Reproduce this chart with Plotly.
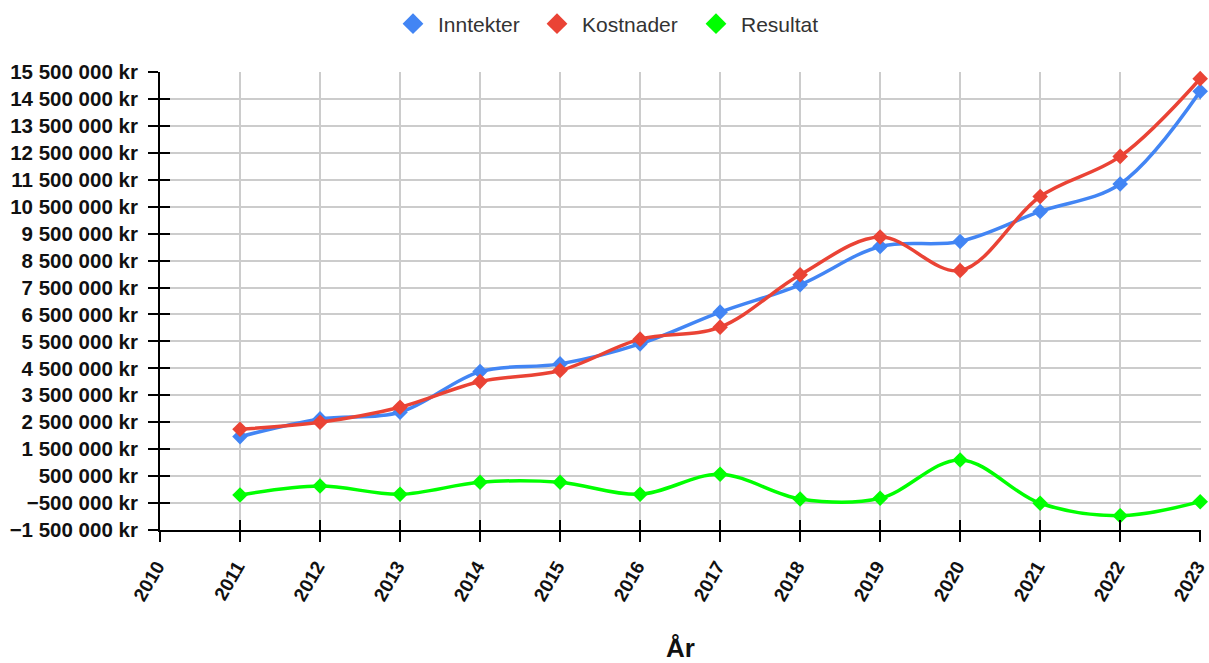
import plotly.graph_objects as go

years = [2011, 2012, 2013, 2014, 2015, 2016, 2017, 2018, 2019, 2020, 2021, 2022, 2023]
inntekter = [1966000, 2623000, 2872000, 4380000, 4666000, 5409000, 6587000,
             7601000, 9024000, 9210000, 10324000, 11342000, 14782000]
kostnader = [2241000, 2501000, 3058000, 4009000, 4418000, 5584000, 6030000,
             7973000, 9373000, 8132000, 10881000, 12367000, 15253000]
resultat = [-200000, 134000, -174000, 272000, 272000, -174000, 569000,
            -348000, -322000, 1100000, -508000, -969000, -449000]

x_ticks = [2010, 2011, 2012, 2013, 2014, 2015, 2016, 2017, 2018, 2019, 2020, 2021, 2022, 2023]
y_ticks = [-1500000, -500000, 500000, 1500000, 2500000, 3500000, 4500000, 5500000,
           6500000, 7500000, 8500000, 9500000, 10500000, 11500000, 12500000,
           13500000, 14500000, 15500000]
y_tick_labels = ["\u22121 500 000 kr", "\u2212500 000 kr", "500 000 kr", "1 500 000 kr",
                 "2 500 000 kr", "3 500 000 kr", "4 500 000 kr", "5 500 000 kr",
                 "6 500 000 kr", "7 500 000 kr", "8 500 000 kr", "9 500 000 kr",
                 "10 500 000 kr", "11 500 000 kr", "12 500 000 kr", "13 500 000 kr",
                 "14 500 000 kr", "15 500 000 kr"]

series = [("Inntekter", inntekter, "#4285F4"),
          ("Kostnader", kostnader, "#EA4335"),
          ("Resultat", resultat, "#00FF00")]

FONT = "Arial, 'Liberation Sans', sans-serif"
W, H = 1209, 663

fig = go.Figure()
for name, vals, col in series:
    fig.add_trace(go.Scatter(
        x=years, y=vals, name=name, mode="lines+markers", showlegend=False,
        line=dict(color=col, width=3.5, shape="spline", smoothing=1),
        marker=dict(symbol="diamond", size=12, color=col),
        cliponaxis=False,
    ))

# legend entries (diamond only), each in its own legend box for exact spacing
legend_ids = ["legend", "legend2", "legend3"]
legend_left_px = [388, 532, 691]
for (name, vals, col), lid in zip(series, legend_ids):
    fig.add_trace(go.Scatter(
        x=[None], y=[None], name=name, mode="markers", legend=lid,
        marker=dict(symbol="diamond", size=16, color=col),
    ))

# invisible trace to activate overlay axes (inside tick halves)
fig.add_trace(go.Scatter(x=[years[0]], y=[resultat[0]], xaxis="x2", yaxis="y2",
                         mode="markers", marker=dict(opacity=0), showlegend=False,
                         hoverinfo="skip"))

yr = [y_ticks[0], y_ticks[-1]]
xr = [x_ticks[0], x_ticks[-1] + 0.01]

legend_common = dict(orientation="h", xref="container", yref="container",
                     xanchor="left", y=(H - 24) / H, yanchor="middle",
                     font=dict(size=21, color="#333333"), itemwidth=40,
                     bgcolor="rgba(0,0,0,0)")
legends = {}
for lid, lx in zip(legend_ids, legend_left_px):
    legends[lid] = dict(legend_common, x=lx / W)

fig.update_layout(
    width=W, height=H,
    margin=dict(l=160, r=8, t=72, b=133, autoexpand=False),
    paper_bgcolor="white", plot_bgcolor="white",
    font=dict(family=FONT, color="#222222"),
    **legends,
    xaxis=dict(
        range=xr, tickmode="array", tickvals=x_ticks, automargin=False,
        tickangle=-60, tickfont=dict(size=19, color="#111111", family=FONT, weight="bold"),
        ticklabeloverflow="allow", ticklabelstandoff=6, ticklabelshift=-3,
        showgrid=True, gridcolor="#cccccc", gridwidth=1.5,
        showline=True, linecolor="#000000", linewidth=2,
        ticks="outside", ticklen=10, tickwidth=2, tickcolor="#000000",
        zeroline=False,
        title=dict(text="År", font=dict(size=26, color="#111111", family=FONT, weight="bold"),
                   standoff=46),
    ),
    yaxis=dict(
        range=yr, tickmode="array", tickvals=y_ticks, ticktext=y_tick_labels,
        automargin=False,
        tickfont=dict(size=20.5, color="#111111", family=FONT, weight="bold"),
        showgrid=True, gridcolor="#cccccc", gridwidth=1.5,
        showline=True, linecolor="#000000", linewidth=2,
        ticks="outside", ticklen=10, tickwidth=2, tickcolor="#000000",
        ticklabelstandoff=6, zeroline=False,
    ),
    xaxis2=dict(
        overlaying="x", anchor="y2", side="bottom", range=xr, automargin=False,
        tickmode="array", tickvals=x_ticks, showticklabels=False,
        ticks="inside", ticklen=10, tickwidth=2, tickcolor="#000000",
        showgrid=False, zeroline=False, showline=False,
    ),
    yaxis2=dict(
        overlaying="y", anchor="x2", side="left", range=yr, automargin=False,
        tickmode="array", tickvals=y_ticks, showticklabels=False,
        ticks="inside", ticklen=10, tickwidth=2, tickcolor="#000000",
        showgrid=False, zeroline=False, showline=False,
    ),
)

fig.write_html("out.html", config={"displayModeBar": False},
               post_script="document.body.style.margin='0';")
